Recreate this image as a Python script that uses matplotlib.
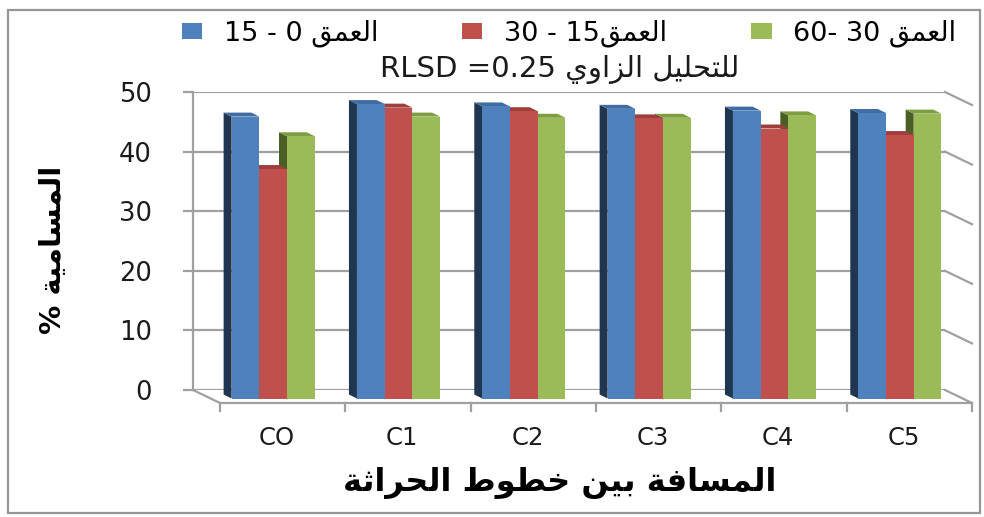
import re
import matplotlib
matplotlib.use("Agg")
import matplotlib.pyplot as plt
from matplotlib.patches import Polygon, Patch, Rectangle
import numpy as np

# ---------------- data ----------------
categories = ["CO", "C1", "C2", "C3", "C4", "C5"]
series_labels = ["العمق 0 - 15", "العمق15 - 30", "العمق 30 -60"]
depth_0_15 = [47.3, 49.4, 49.0, 48.6, 48.3, 47.9]
depth_15_30 = [38.5, 48.8, 48.2, 47.0, 45.3, 44.2]
depth_30_60 = [44.0, 47.3, 47.1, 47.1, 47.5, 47.8]
y_ticks = [0, 10, 20, 30, 40, 50]
title_text = "للتحليل الزاوي RLSD =0.25"
x_label = "المسافة بين خطوط الحراثة"
y_label = "المسامية %"

front_colors = ["#4F81BD", "#C0504D", "#9BBB59"]
top_colors = ["#3E6CA3", "#A03E3B", "#7E9C40"]
side_colors = ["#1F3550", "#5A2321", "#4A5E26"]

# ------------- simple Arabic shaping + RTL ordering -------------
_DUAL = {'ب': 0xFE8F, 'ت': 0xFE95, 'ث': 0xFE99, 'ج': 0xFE9D, 'ح': 0xFEA1,
         'خ': 0xFEA5, 'س': 0xFEB1, 'ش': 0xFEB5, 'ص': 0xFEB9, 'ض': 0xFEBD,
         'ط': 0xFEC1, 'ظ': 0xFEC5, 'ع': 0xFEC9, 'غ': 0xFECD, 'ف': 0xFED1,
         'ق': 0xFED5, 'ك': 0xFED9, 'ل': 0xFEDD, 'م': 0xFEE1, 'ن': 0xFEE5,
         'ه': 0xFEE9, 'ي': 0xFEF1}
_RIGHT = {'ا': 0xFE8D, 'ة': 0xFE93, 'د': 0xFEA9, 'ذ': 0xFEAB, 'ر': 0xFEAD,
          'ز': 0xFEAF, 'و': 0xFEED, 'ى': 0xFEEF}


def _shape(s):
    out = []
    n = len(s)
    for i, c in enumerate(s):
        prev_c = s[i - 1] if i > 0 else ''
        next_c = s[i + 1] if i < n - 1 else ''
        jp = prev_c in _DUAL
        if c in _DUAL:
            jn = next_c in _DUAL or next_c in _RIGHT
            base = _DUAL[c]
            if jp and jn:
                out.append(chr(base + 3))
            elif jp:
                out.append(chr(base + 1))
            elif jn:
                out.append(chr(base + 2))
            else:
                out.append(chr(base))
        elif c in _RIGHT:
            out.append(chr(_RIGHT[c] + 1) if jp else chr(_RIGHT[c]))
        else:
            out.append(c)
    return ''.join(out)


def rtl(s):
    shaped = _shape(s)
    toks = re.findall(r'[A-Za-z][A-Za-z0-9 .=]*[A-Za-z0-9]|\d+(?:\.\d+)?|.', shaped)
    return ''.join(reversed(toks))


plt.rcParams['font.family'] = ['DejaVu Sans']

# ---------------- figure / axes ----------------
W, H = 984, 517
fig = plt.figure(figsize=(W / 100, H / 100), dpi=100)
fig.patch.set_facecolor("white")

# back wall: x 193..945 px, y(0)=390 px, y(50)=92 px
ax = fig.add_axes([193 / W, (H - 390) / H, (945 - 193) / W, (390 - 92) / H])
ax.set_xlim(-0.5, 5.5)
ax.set_ylim(0, 50)
ax.set_facecolor("none")

ux = (945 - 193) / 6.0      # px per category
uy = (390 - 92) / 50.0      # px per value unit


def px2x(p):
    return p / ux


def px2y(p):
    return p / uy


grid_c = "#A0A0A0"
ax.set_yticks(y_ticks)
ax.set_xticks([])
for s in ["top", "right", "bottom"]:
    ax.spines[s].set_visible(False)
ax.spines["left"].set_color(grid_c)
ax.spines["left"].set_linewidth(1.6)
ax.tick_params(axis="y", direction="out", length=7.5, width=1.6, color=grid_c,
               labelsize=18.5, labelcolor="#1A1A1A", pad=22)
ax.yaxis.grid(True, color=grid_c, linewidth=1.6)
ax.set_axisbelow(True)

# depth geometry (pixels)
floor_dx, floor_dy = 27.0, 13.0      # back wall -> front edge of floor
bar_fx, bar_fy = 17.5, 8.5           # back wall -> front face of bars
bar_dx, bar_dy = 8.0, 4.0            # bar depth (front -> back)

# right side diagonals of gridlines
for v in y_ticks:
    ax.plot([5.5, 5.5 + px2x(floor_dx)], [v, v - px2y(floor_dy)],
            color=grid_c, lw=1.6, clip_on=False, zorder=1)

# floor
fx0 = -0.5 + px2x(floor_dx)
fx1 = 5.5 + px2x(floor_dx)
fy = -px2y(floor_dy)
ax.plot([-0.5, fx0], [0, fy], color=grid_c, lw=1.6, clip_on=False, zorder=1)
ax.plot([fx0, fx1], [fy, fy], color=grid_c, lw=1.6, clip_on=False, zorder=1)
for b in np.arange(-0.5, 6.0, 1.0):
    xb = b + px2x(floor_dx)
    ax.plot([xb, xb], [fy, fy - px2y(8)], color=grid_c, lw=1.6,
            clip_on=False, zorder=1)

# category labels
for i, c in enumerate(categories):
    ax.text(i + px2x(floor_dx) - px2x(6), fy - px2y(35), c, ha="center",
            va="center", fontsize=17.5, color="#1A1A1A", clip_on=False)

# ---------------- bars ----------------
series = [depth_0_15, depth_15_30, depth_30_60]
bw = 27.7 / ux
x = np.arange(len(categories))
sx = px2x(bar_fx)
sy = px2y(bar_fy)
ddx = px2x(bar_dx)
ddy = px2y(bar_dy)

z = 3
for k in [2, 1, 0]:
    vals = np.array(series[k])
    xc = x + (k - 1) * bw + sx
    for xi, v in zip(xc, vals):
        xl, xr = xi - bw / 2, xi + bw / 2
        y0, y1 = -sy, v - sy
        side = Polygon([(xl, y0), (xl, y1), (xl - ddx, y1 + ddy), (xl - ddx, y0 + ddy)],
                       closed=True, facecolor=side_colors[k], edgecolor="none",
                       clip_on=False, zorder=z)
        top = Polygon([(xl, y1), (xr, y1), (xr - ddx, y1 + ddy), (xl - ddx, y1 + ddy)],
                      closed=True, facecolor=top_colors[k], edgecolor="none",
                      clip_on=False, zorder=z)
        ax.add_patch(side)
        ax.add_patch(top)
    bars = ax.bar(xc, vals, width=bw, bottom=-sy, color=front_colors[k],
                  edgecolor="none", zorder=z + 0.5)
    for p in bars:
        p.set_clip_on(False)
    z += 1

# ---------------- texts ----------------
handles = [Patch(facecolor=c, edgecolor="none") for c in front_colors]
fig.legend(handles, [rtl(s) for s in series_labels], loc="center",
           bbox_to_anchor=(569 / W, 1 - 33 / H), ncol=3, frameon=False,
           fontsize=19.5, handlelength=0.75, handleheight=0.55, handletextpad=0.8,
           columnspacing=3.1, borderpad=0.2)
fig.text(560 / W, 1 - 70 / H, rtl(title_text), ha="center", va="center",
         fontsize=21, color="#1A1A1A")
fig.text(560 / W, 1 - 483 / H, rtl(x_label), ha="center", va="center",
         fontsize=23, fontweight="bold", color="#000000")
fig.text(53 / W, 1 - 250 / H, rtl(y_label), ha="center", va="center",
         rotation=90, fontsize=21, fontweight="bold", color="#000000")

# chart area border
fig.patches.append(Rectangle((8 / W, 1 - 513 / H), (980 - 8) / W, (513 - 10) / H,
                             transform=fig.transFigure, fill=False,
                             edgecolor="#969696", lw=1.6))

fig.savefig("out.png", dpi=100)
